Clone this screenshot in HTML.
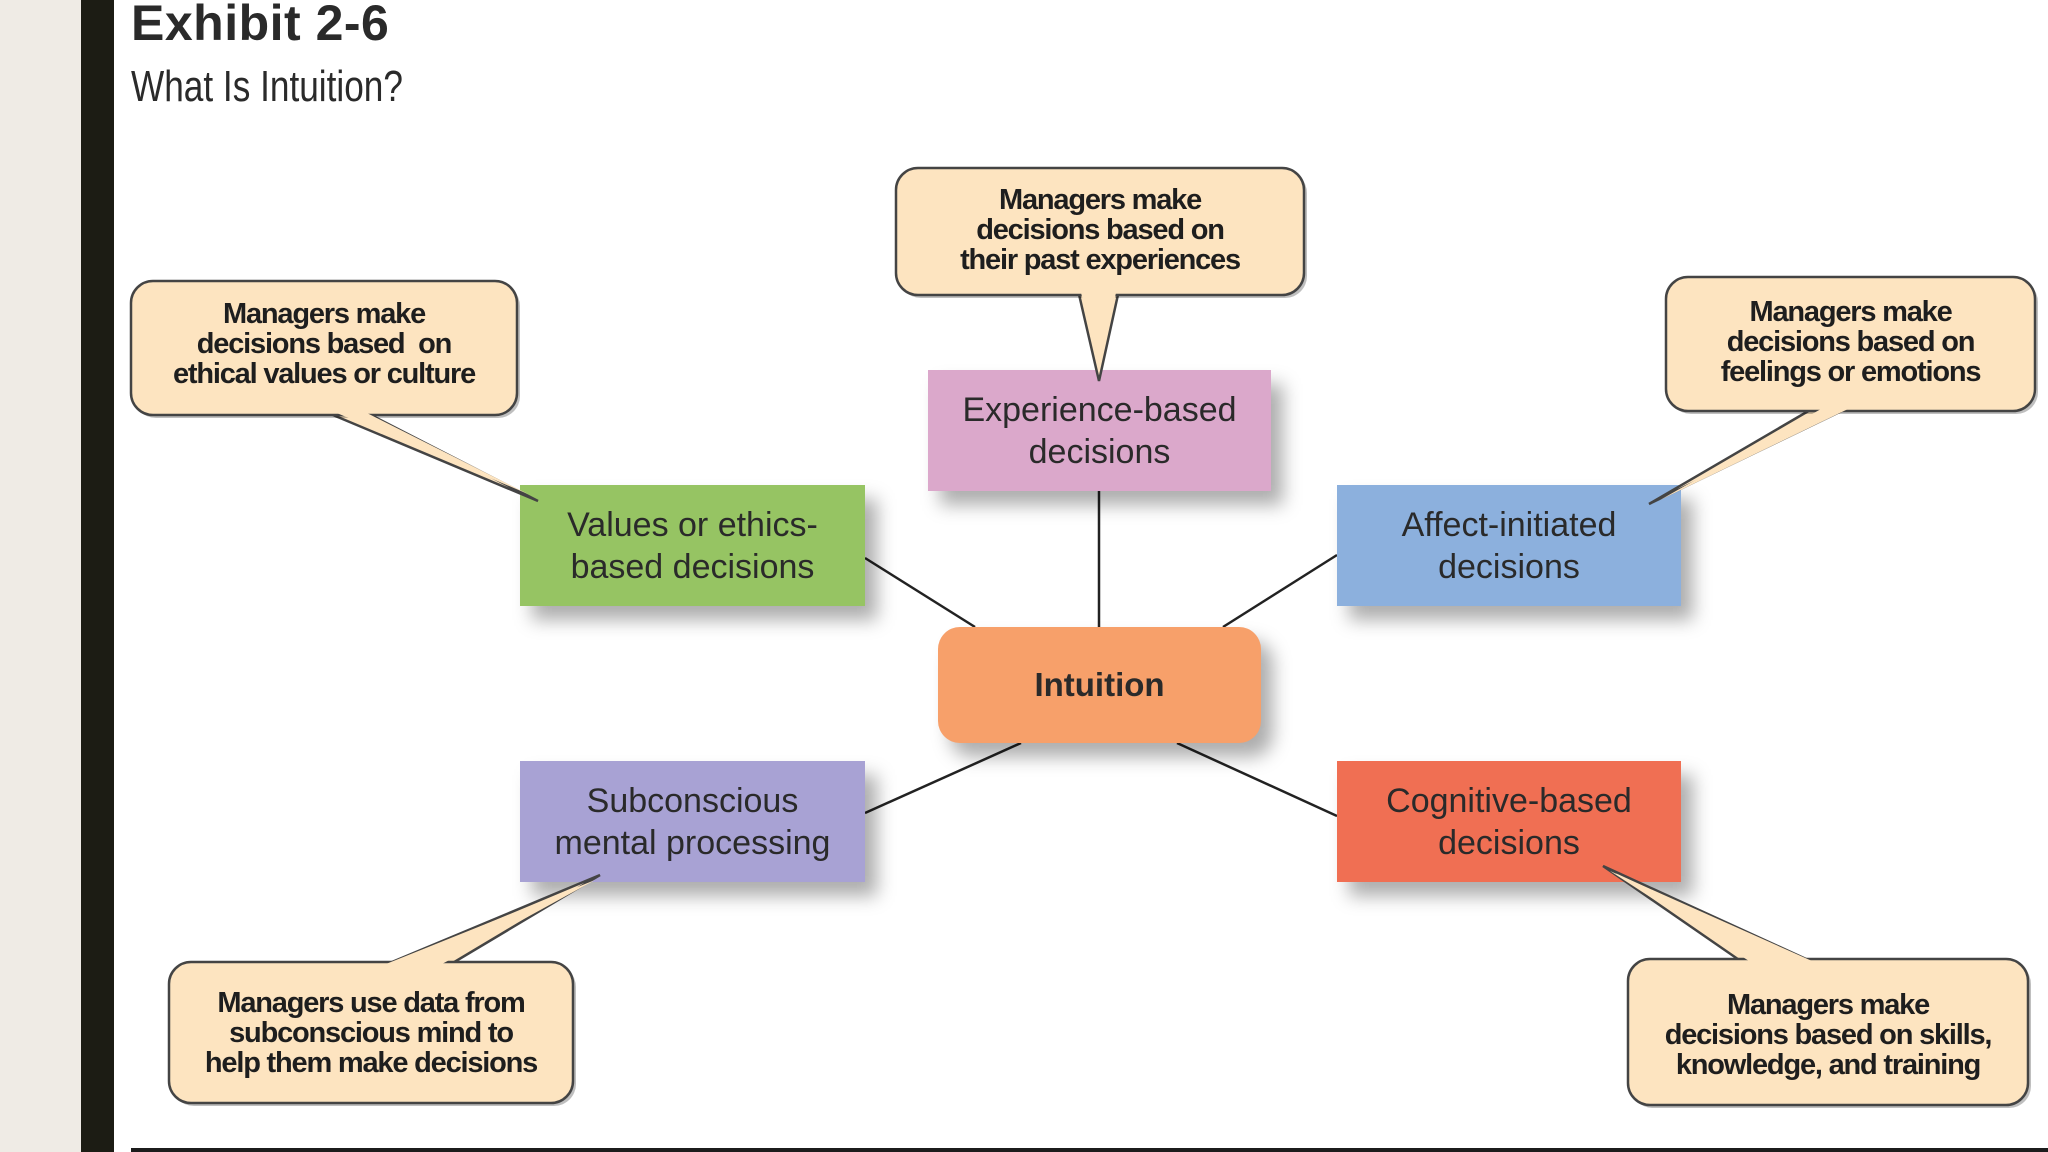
<!DOCTYPE html>
<html><head><meta charset="utf-8"><style>
body{margin:0;width:2048px;height:1152px;background:#fff;position:relative;overflow:hidden;font-family:"Liberation Sans",sans-serif;color:#222}
.a{position:absolute}
.t{position:absolute;display:flex;align-items:center;justify-content:center;text-align:center}
.box{font-size:34px;line-height:42px;color:#2a2a2a}
.co{font-size:29px;line-height:30px;letter-spacing:-1.2px;color:#1e1e1e;font-weight:bold;-webkit-text-stroke:0}
</style></head><body>
<div class="a" style="left:0;top:0;width:81px;height:1152px;background:#efebe5"></div>
<div class="a" style="left:81px;top:0;width:33px;height:1152px;background:#1c1c14"></div>
<div class="a" style="left:131px;top:-6px;font-size:50px;font-weight:bold;color:#2a2a2a;letter-spacing:0.5px">Exhibit 2-6</div>
<div class="a" style="left:131px;top:62px;font-size:44px;color:#2a2a2a;transform:scaleX(0.8);transform-origin:left top;white-space:nowrap">What Is Intuition?</div>
<svg class="a" style="left:0;top:0" width="2048" height="1152">
<defs><filter id="sh" x="-20%" y="-20%" width="150%" height="160%"><feGaussianBlur stdDeviation="9"/></filter></defs>
<g stroke="#222" stroke-width="2.5">
<line x1="1099" y1="491" x2="1099" y2="627"/>
<line x1="865" y1="558" x2="975" y2="627"/>
<line x1="1337" y1="555" x2="1223" y2="627"/>
<line x1="865" y1="813" x2="1021" y2="743"/>
<line x1="1337" y1="816" x2="1177" y2="743"/>
</g>
<g fill="rgba(0,0,0,0.32)" filter="url(#sh)">
<rect x="940" y="384" width="343" height="121"/>
<rect x="532" y="499" width="345" height="121"/>
<rect x="1349" y="499" width="344" height="121"/>
<rect x="950" y="641" width="323" height="116" rx="22"/>
<rect x="532" y="775" width="345" height="121"/>
<rect x="1349" y="775" width="344" height="121"/>
</g>
<rect x="928" y="370" width="343" height="121" fill="#dba8cb"/>
<rect x="520" y="485" width="345" height="121" fill="#96c463"/>
<rect x="1337" y="485" width="344" height="121" fill="#8cb0dd"/>
<rect x="938" y="627" width="323" height="116" rx="22" fill="#f7a06a"/>
<rect x="520" y="761" width="345" height="121" fill="#a8a2d4"/>
<rect x="1337" y="761" width="344" height="121" fill="#f06f53"/>
<g fill="#fde4c0" stroke="#444" stroke-width="2.5" stroke-linejoin="miter">
<polygon points="1078,290 1099,381 1119,290"/>
<polygon points="321,410 538,501 361,410"/>
<polygon points="1817,406 1649,504 1852,406"/>
<polygon points="380,967 600,875 446,967"/>
<polygon points="1745,964 1603,866 1817,964"/>
<g fill="rgba(0,0,0,0.25)" stroke="none"><rect x="899" y="171" width="408" height="127" rx="22"/><rect x="134" y="284" width="386" height="134" rx="22"/><rect x="1669" y="280" width="369" height="134" rx="22"/><rect x="172" y="965" width="404" height="141" rx="22"/><rect x="1631" y="962" width="400" height="146" rx="22"/></g>
<rect x="896" y="168" width="408" height="127" rx="22"/>
<rect x="131" y="281" width="386" height="134" rx="22"/>
<rect x="1666" y="277" width="369" height="134" rx="22"/>
<rect x="169" y="962" width="404" height="141" rx="22"/>
<rect x="1628" y="959" width="400" height="146" rx="22"/>
</g>
<g fill="#fde4c0">
<polygon points="1080,288 1099,372 1117,288"/>
<polygon points="325,408 528,494 357,408"/>
<polygon points="1821,409 1660,500 1848,409"/>
<polygon points="386,964 595,880 442,964"/>
<polygon points="1749,961 1610,871 1812,961"/>
</g>
</svg>
<div class="t box" style="left:928px;top:370px;width:343px;height:121px">Experience-based<br>decisions</div>
<div class="t box" style="left:520px;top:485px;width:345px;height:121px">Values or ethics-<br>based decisions</div>
<div class="t box" style="left:1337px;top:485px;width:344px;height:121px">Affect-initiated<br>decisions</div>
<div class="t box" style="left:938px;top:627px;width:323px;height:116px;font-weight:bold;font-size:33px">Intuition</div>
<div class="t box" style="left:520px;top:761px;width:345px;height:121px">Subconscious<br>mental processing</div>
<div class="t box" style="left:1337px;top:761px;width:344px;height:121px">Cognitive-based<br>decisions</div>
<div class="t co" style="left:896px;top:166px;width:408px;height:127px">Managers make<br>decisions based on<br>their past experiences</div>
<div class="t co" style="left:131px;top:277px;width:386px;height:134px">Managers make<br>decisions based&nbsp; on<br>ethical values or culture</div>
<div class="t co" style="left:1666px;top:275px;width:369px;height:134px">Managers make<br>decisions based on<br>feelings or emotions</div>
<div class="t co" style="left:169px;top:962px;width:404px;height:141px">Managers use data from<br>subconscious mind to<br>help them make decisions</div>
<div class="t co" style="left:1628px;top:962px;width:400px;height:146px">Managers make<br>decisions based on skills,<br>knowledge, and training</div>
<div class="a" style="left:131px;top:1148px;width:1917px;height:4px;background:#1c1c1c"></div>
</body></html>
